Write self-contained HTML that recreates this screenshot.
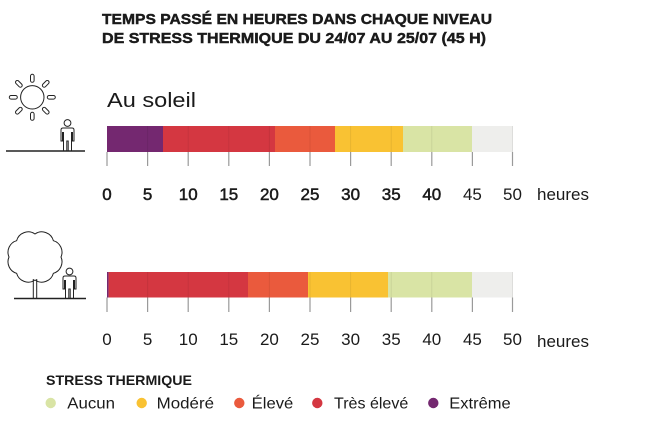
<!DOCTYPE html>
<html><head><meta charset="utf-8"><style>
html,body{margin:0;padding:0;background:#fff;}
svg{display:block;}
text{font-family:"Liberation Sans",sans-serif;fill:#1a1a1a;}
</style></head><body>
<svg width="648" height="442" viewBox="0 0 648 442" xmlns="http://www.w3.org/2000/svg">
<rect width="648" height="442" fill="#fff"/>
<!-- Title -->
<g stroke="#1a1a1a" stroke-width="0.45">
<text x="102" y="24" font-size="15" font-weight="bold" textLength="390" lengthAdjust="spacingAndGlyphs">TEMPS PASSÉ EN HEURES DANS CHAQUE NIVEAU</text>
<text x="102" y="43" font-size="15" font-weight="bold" textLength="384" lengthAdjust="spacingAndGlyphs">DE STRESS THERMIQUE DU 24/07 AU 25/07 (45 H)</text>
</g>

<!-- Sun icon -->
<g stroke="#222" stroke-width="1" fill="#fff">
  <circle cx="32.3" cy="97.3" r="11.7"/>
  <g transform="translate(32.3,97.3)">
    <rect x="-1.8" y="-23" width="3.6" height="8" rx="1.8" transform="rotate(0)"/>
    <rect x="-1.8" y="-23" width="3.6" height="8" rx="1.8" transform="rotate(45)"/>
    <rect x="-1.8" y="-23" width="3.6" height="8" rx="1.8" transform="rotate(90)"/>
    <rect x="-1.8" y="-23" width="3.6" height="8" rx="1.8" transform="rotate(135)"/>
    <rect x="-1.8" y="-23" width="3.6" height="8" rx="1.8" transform="rotate(180)"/>
    <rect x="-1.8" y="-23" width="3.6" height="8" rx="1.8" transform="rotate(225)"/>
    <rect x="-1.8" y="-23" width="3.6" height="8" rx="1.8" transform="rotate(270)"/>
    <rect x="-1.8" y="-23" width="3.6" height="8" rx="1.8" transform="rotate(315)"/>
  </g>
  <!-- person -->
  <circle cx="67.5" cy="123" r="3.4"/>
  <path d="M63,128 H72 Q74,128 74,130 V141 H72.5 V132.5 H71.5 V151 H68.2 V141 H66.8 V151 H63.5 V132.5 H62.5 V141 H61 V130 Q61,128 63,128 Z"/>
</g>
<line x1="6" y1="151" x2="85" y2="151" stroke="#222" stroke-width="1.5"/>

<!-- Tree icon -->
<g stroke="#222" stroke-width="1" fill="#fff">
  <path d="M35,280 A12,12 0 0 1 16.6,273.3 A12,12 0 0 1 9,257 A12,12 0 0 1 16.6,240.7 A12,12 0 0 1 35,234 A12,12 0 0 1 53.4,240.7 A12,12 0 0 1 61,257 A12,12 0 0 1 53.4,273.3 A12,12 0 0 1 35,280 Z"/>
  <line x1="33.3" y1="279" x2="33.3" y2="298"/>
  <line x1="36.7" y1="279" x2="36.7" y2="298"/>
  <g transform="translate(2,148)">
    <circle cx="67.5" cy="123.5" r="3.4"/>
    <path d="M63,128 H72 Q74,128 74,130 V141 H72.5 V132.5 H71.5 V150.5 H68.2 V141 H66.8 V150.5 H63.5 V132.5 H62.5 V141 H61 V130 Q61,128 63,128 Z"/>
  </g>
</g>
<line x1="14" y1="298.5" x2="86" y2="298.5" stroke="#222" stroke-width="1.5"/>

<!-- Au soleil -->
<text x="107" y="107" font-size="20" textLength="89" lengthAdjust="spacingAndGlyphs">Au soleil</text>

<!-- Bar 1 -->
<g>
  <rect x="107" y="126" width="56" height="26" fill="#742870"/>
  <rect x="163" y="126" width="112" height="26" fill="#D43741"/>
  <rect x="275" y="126" width="60" height="26" fill="#EA5A3D"/>
  <rect x="335" y="126" width="68" height="26" fill="#F9C233"/>
  <rect x="403" y="126" width="69" height="26" fill="#D9E4A5"/>
  <rect x="472" y="126" width="41" height="26" fill="#EEEEEC"/>
  <g stroke="#000" stroke-opacity="0.07" stroke-width="1">
    <line x1="147.6" y1="126" x2="147.6" y2="152"/><line x1="188.2" y1="126" x2="188.2" y2="152"/>
    <line x1="228.8" y1="126" x2="228.8" y2="152"/><line x1="269.4" y1="126" x2="269.4" y2="152"/>
    <line x1="310" y1="126" x2="310" y2="152"/><line x1="350.6" y1="126" x2="350.6" y2="152"/>
    <line x1="391.2" y1="126" x2="391.2" y2="152"/><line x1="431.8" y1="126" x2="431.8" y2="152"/>
    <line x1="512.5" y1="126" x2="512.5" y2="152"/>
  </g>
  <g stroke="#9a9a9a" stroke-width="1.2">
    <line x1="107" y1="152" x2="107" y2="166"/><line x1="147.6" y1="152" x2="147.6" y2="166"/>
    <line x1="188.2" y1="152" x2="188.2" y2="166"/><line x1="228.8" y1="152" x2="228.8" y2="166"/>
    <line x1="269.4" y1="152" x2="269.4" y2="166"/><line x1="310" y1="152" x2="310" y2="166"/>
    <line x1="350.6" y1="152" x2="350.6" y2="166"/><line x1="391.2" y1="152" x2="391.2" y2="166"/>
    <line x1="431.8" y1="152" x2="431.8" y2="166"/><line x1="472.4" y1="152" x2="472.4" y2="166"/>
    <line x1="512.5" y1="152" x2="512.5" y2="166"/>
  </g>
  <g font-size="17" text-anchor="middle" stroke="#1a1a1a" stroke-width="0.5">
    <text x="107" y="200">0</text><text x="147.6" y="200">5</text><text x="188.2" y="200">10</text>
    <text x="228.8" y="200">15</text><text x="269.4" y="200">20</text><text x="310" y="200">25</text>
    <text x="350.6" y="200">30</text><text x="391.2" y="200">35</text><text x="431.8" y="200">40</text>
  </g>
  <g font-size="17" text-anchor="middle">
    <text x="472.4" y="200">45</text><text x="512.5" y="200">50</text>
  </g>
  <text x="537" y="200" font-size="17" textLength="52" lengthAdjust="spacingAndGlyphs">heures</text>
</g>

<!-- Bar 2 -->
<g>
  <rect x="107" y="272" width="1.6" height="25.5" fill="#742870"/>
  <rect x="108.6" y="272" width="139.4" height="25.5" fill="#D43741"/>
  <rect x="248" y="272" width="60" height="25.5" fill="#EA5A3D"/>
  <rect x="308" y="272" width="80" height="25.5" fill="#F9C233"/>
  <rect x="388" y="272" width="84" height="25.5" fill="#D9E4A5"/>
  <rect x="472" y="272" width="41" height="25.5" fill="#EEEEEC"/>
  <g stroke="#000" stroke-opacity="0.07" stroke-width="1">
    <line x1="147.6" y1="272" x2="147.6" y2="297.5"/><line x1="188.2" y1="272" x2="188.2" y2="297.5"/>
    <line x1="228.8" y1="272" x2="228.8" y2="297.5"/><line x1="269.4" y1="272" x2="269.4" y2="297.5"/>
    <line x1="310" y1="272" x2="310" y2="297.5"/><line x1="350.6" y1="272" x2="350.6" y2="297.5"/>
    <line x1="391.2" y1="272" x2="391.2" y2="297.5"/><line x1="431.8" y1="272" x2="431.8" y2="297.5"/>
    <line x1="512.5" y1="272" x2="512.5" y2="297.5"/>
  </g>
  <g stroke="#9a9a9a" stroke-width="1.2">
    <line x1="107" y1="297.5" x2="107" y2="312"/><line x1="147.6" y1="297.5" x2="147.6" y2="312"/>
    <line x1="188.2" y1="297.5" x2="188.2" y2="312"/><line x1="228.8" y1="297.5" x2="228.8" y2="312"/>
    <line x1="269.4" y1="297.5" x2="269.4" y2="312"/><line x1="310" y1="297.5" x2="310" y2="312"/>
    <line x1="350.6" y1="297.5" x2="350.6" y2="312"/><line x1="391.2" y1="297.5" x2="391.2" y2="312"/>
    <line x1="431.8" y1="297.5" x2="431.8" y2="312"/><line x1="472.4" y1="297.5" x2="472.4" y2="312"/>
    <line x1="512.5" y1="297.5" x2="512.5" y2="312"/>
  </g>
  <g font-size="17" text-anchor="middle">
    <text x="107" y="345">0</text><text x="147.6" y="345">5</text><text x="188.2" y="345">10</text>
    <text x="228.8" y="345">15</text><text x="269.4" y="345">20</text><text x="310" y="345">25</text>
    <text x="350.6" y="345">30</text><text x="391.2" y="345">35</text><text x="431.8" y="345">40</text>
    <text x="472.4" y="345">45</text><text x="512.5" y="345">50</text>
  </g>
  <text x="537" y="347" font-size="17" textLength="52" lengthAdjust="spacingAndGlyphs">heures</text>
</g>

<!-- Legend -->
<text x="46" y="385" font-size="14" font-weight="bold" textLength="146" lengthAdjust="spacingAndGlyphs">STRESS THERMIQUE</text>
<circle cx="50.7" cy="403" r="5.2" fill="#D9E4A5"/>
<text x="67.3" y="408.5" font-size="16" textLength="47.7" lengthAdjust="spacingAndGlyphs">Aucun</text>
<circle cx="141.7" cy="403" r="5.2" fill="#F9C233"/>
<text x="156.7" y="408.5" font-size="16" textLength="57.3" lengthAdjust="spacingAndGlyphs">Modéré</text>
<circle cx="239.3" cy="403" r="5.2" fill="#EA5A3D"/>
<text x="251.7" y="408.5" font-size="16" textLength="41.6" lengthAdjust="spacingAndGlyphs">Élevé</text>
<circle cx="317.3" cy="403" r="5.2" fill="#D43741"/>
<text x="334" y="408.5" font-size="16" textLength="74.3" lengthAdjust="spacingAndGlyphs">Très élevé</text>
<circle cx="433.3" cy="403" r="5.2" fill="#742870"/>
<text x="449.3" y="408.5" font-size="16" textLength="61.4" lengthAdjust="spacingAndGlyphs">Extrême</text>
</svg>
</body></html>
